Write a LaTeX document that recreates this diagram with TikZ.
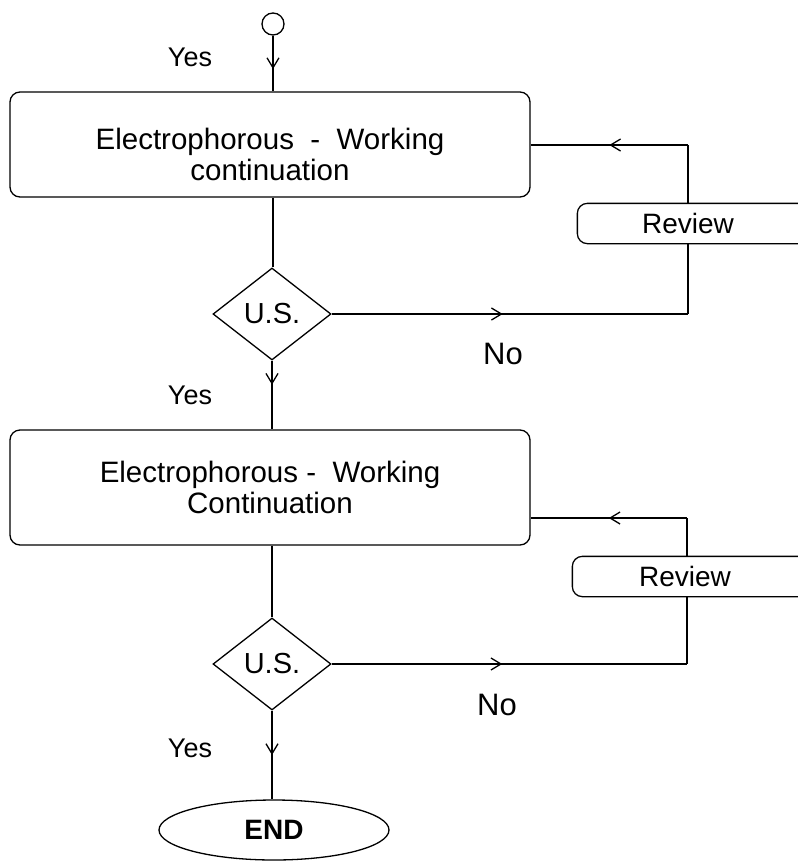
\documentclass[tikz,border=0pt]{standalone}
\usepackage{fontspec}
\setmainfont{Liberation Sans}
\usetikzlibrary{shapes.geometric,arrows.meta,decorations.markings}
\begin{document}
\begin{tikzpicture}[x=1pt,y=-1pt,line width=1.3pt,
  mainbox/.style={draw,rounded corners=10pt,minimum width=520pt,inner sep=0pt,align=center,font=\fontsize{29.5}{31}\selectfont},
  decide/.style={draw,diamond,minimum width=118pt,minimum height=92pt,inner sep=0pt,font=\fontsize{29}{33}\selectfont},
  revtext/.style={minimum width=220pt,minimum height=39pt,inner sep=0pt,font=\fontsize{28}{32}\selectfont},
  lbl/.style={inner sep=0pt,font=\fontsize{27}{31}\selectfont},
  nolbl/.style={inner sep=0pt,font=\fontsize{31}{35}\selectfont},
  midarrow/.style={postaction={decorate},decoration={markings,mark=at position #1 with {\arrow[line width=1.3pt]{Straight Barb[length=10pt,width=12pt]}}}},
  midarrow/.default=0.55
]
\useasboundingbox (0,0) rectangle (798,863);
% nodes
\node[draw,circle,minimum size=22pt,inner sep=0pt] (start) at (273,24) {};
\node[mainbox,minimum height=105pt] (b1) at (270,144.5) {\rule{0pt}{42pt}Electrophorous\ \ -\ \ Working\\continuation};
\node[decide] (d1) at (272,314) {U.S.};
\node[revtext] (r1) at (688,223.5) {Review};
\node[mainbox,minimum height=115pt] (b2) at (270,487.5) {Electrophorous -\ \ Working\\Continuation};
\node[decide] (d2) at (272,664) {U.S.};
\node[revtext] (r2) at (685,576.5) {Review};
\node[draw,ellipse,minimum width=230pt,minimum height=60pt,inner sep=0pt,font=\bfseries\fontsize{28}{32}\selectfont] (end) at (274,830) {END};
% review boxes (cut at right edge)
\draw[rounded corners=10pt] (r1.north west) rectangle ([xshift=60pt]r1.south east);
\draw[rounded corners=10pt] ([xshift=-2pt]r2.north west) rectangle ([xshift=60pt]r2.south east);
% coordinates
\coordinate (c1b) at (688,314);
\coordinate (c1t) at (688,145);
\coordinate (c2b) at (687,664);
\coordinate (c2t) at (687,518);
% main flow
\draw[midarrow=0.6] (start) -- (start |- b1.north);
\draw (b1.south -| start) -- (start |- d1.north);
\draw[midarrow=0.35] (d1.south) -- (d1.south |- b2.north);
\draw (b2.south -| d2) -- (d2.north);
\draw[midarrow=0.5] (d2.south) -- (d2.south |- end.north);
% loops
\draw[midarrow=0.48] (d1.east) -- (c1b);
\draw (c1b) -- (r1.south -| c1b);
\draw (r1.north -| c1t) -- (c1t);
\draw[midarrow=0.5] (c1t) -- (c1t -| b1.east);
\draw[midarrow=0.48] (d2.east) -- (c2b);
\draw (c2b) -- (r2.south -| c2b);
\draw (r2.north -| c2t) -- (c2t);
\draw[midarrow=0.5] (c2t) -- (c2t -| b2.east);
% labels
\node[lbl] (y1) at (190,57) {Yes};
\node[lbl] (y2) at (190,395) {Yes};
\node[lbl] (y3) at (190,748) {Yes};
\node[nolbl] (n1) at (503,354) {No};
\node[nolbl] (n2) at (497,705) {No};
\end{tikzpicture}
\end{document}
